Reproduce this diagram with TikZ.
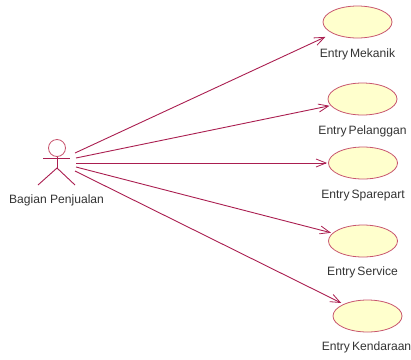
\documentclass[tikz,border=0pt]{standalone}
\usepackage{fontspec}
\setmainfont{Liberation Sans}[WordSpace=0.6]
\newfontfamily\actorfont{Liberation Sans}
\usetikzlibrary{shapes.geometric,arrows.meta}
\definecolor{umlline}{RGB}{170,30,80}
\definecolor{umlfill}{RGB}{255,255,205}
\definecolor{umledge}{RGB}{200,85,110}
\tikzset{
  usecase/.style={ellipse,draw=umledge,fill=umlfill,line width=0.8pt,minimum width=69pt,minimum height=32pt,inner sep=0pt},
  caption/.style={inner sep=0pt,font=\fontsize{12.1}{14}\selectfont,text=black!80},
  actorline/.style={draw=umlline,line width=0.9pt},
  assoc/.style={draw=umlline,line width=0.9pt,-{Straight Barb[length=10pt,width=8pt,line width=0.8pt]}}
}
\begin{document}
\begin{tikzpicture}[x=1pt,y=-1pt]
\useasboundingbox (0,0) rectangle (411,359);
% actor
\node[circle,draw=umledge,line width=0.8pt,minimum size=17pt,inner sep=0pt] (head) at (57,148) {};
\coordinate (armL) at (43,158);
\coordinate (armR) at (70,158);
\coordinate (hip) at (57,168);
\coordinate (legL) at (38,185);
\coordinate (legR) at (75,185);
\draw[actorline] (armL) -- (armR);
\draw[actorline] (head) -- (hip);
\draw[actorline] (legL) -- (hip) -- (legR);
\node[caption] (actorlabel) at (56.5,200) {\actorfont Bagian Penjualan};
% use cases
\node[usecase] (uc1) at (357.5,22) {};
\node[usecase] (uc2) at (362.5,99) {};
\node[usecase] (uc3) at (363,163) {};
\node[usecase] (uc4) at (363,241) {};
\node[usecase] (uc5) at (367.5,316) {};
\node[caption] (l1) at (357.5,54.5) {Entry Mekanik};
\node[caption] (l2) at (362.5,131) {Entry Pelanggan};
\node[caption] (l3) at (363,195.5) {Entry Sparepart};
\node[caption] (l4) at (362.5,272.5) {Entry Service};
\node[caption] (l5) at (366.5,347.5) {Entry Kendaraan};
% connectors
\coordinate (s1) at (75,153);
\coordinate (s2) at (76,158);
\coordinate (s3) at (76,163);
\coordinate (s4) at (76,167);
\coordinate (s5) at (75,171);
\draw[assoc,shorten >=8pt] (s1) -- (uc1);
\draw[assoc,shorten >=1pt] (s2) -- (uc2);
\draw[assoc,shorten >=1pt] (s3) -- (uc3);
\draw[assoc,shorten >=1.5pt] (s4) -- (uc4);
\draw[assoc,shorten >=2.5pt] (s5) -- (uc5);
\end{tikzpicture}
\end{document}
